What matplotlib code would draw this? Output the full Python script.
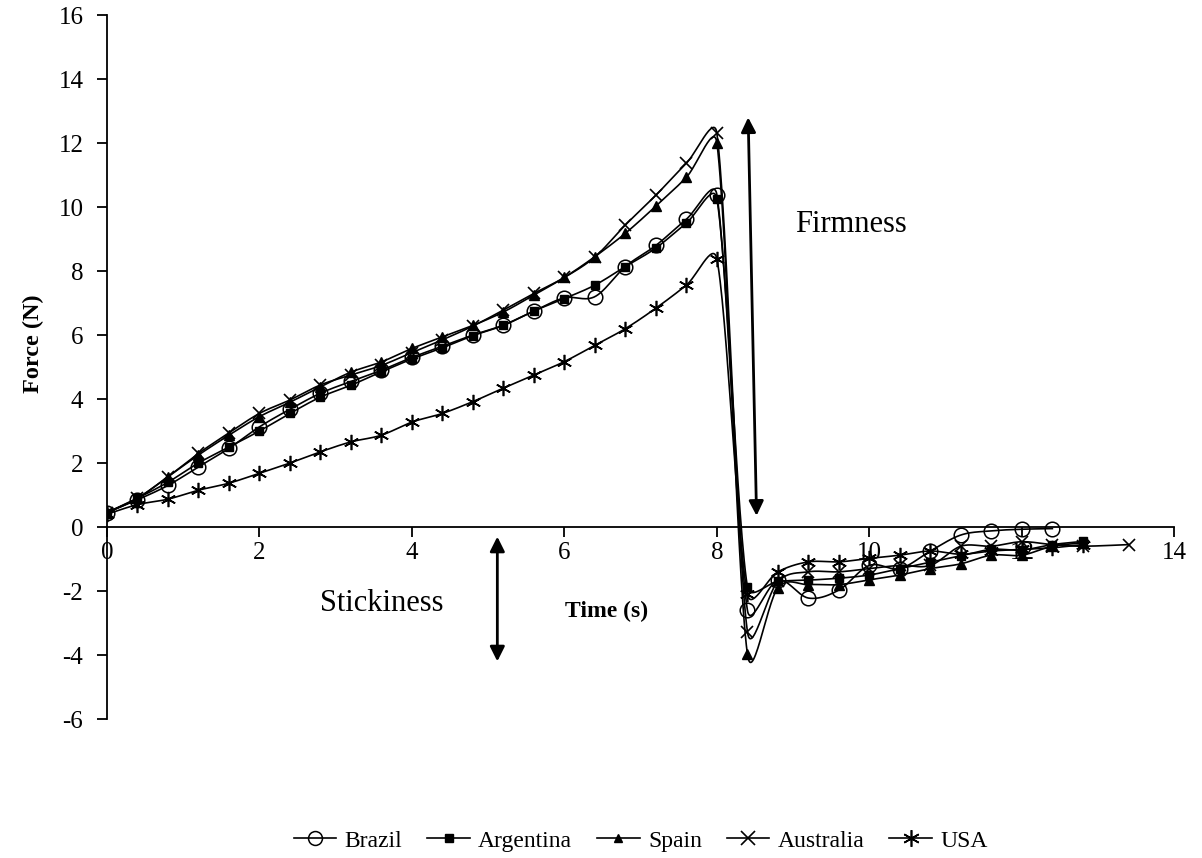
import numpy as np
import matplotlib
matplotlib.use("Agg")
import matplotlib.pyplot as plt
from matplotlib.lines import Line2D

plt.rcParams['font.family'] = ['Liberation Serif', 'DejaVu Serif']

# ---------------- data ----------------
t_up = [0.0, 0.4, 0.8, 1.2, 1.6, 2.0, 2.4, 2.8, 3.2, 3.6, 4.0, 4.4, 4.8, 5.2,
        5.6, 6.0, 6.4, 6.8, 7.2, 7.6, 8.0]

brazil_t = t_up + [8.4, 8.8, 9.2, 9.6, 10.0, 10.4, 10.8, 11.2, 11.6, 12.0, 12.4]
brazil_f = [0.45, 0.85, 1.30, 1.88, 2.46, 3.13, 3.68, 4.18, 4.55, 4.90, 5.30,
            5.65, 6.00, 6.31, 6.75, 7.16, 7.20, 8.14, 8.80, 9.62, 10.38,
            -2.60, -1.66, -2.22, -1.97, -1.20, -1.30, -0.75, -0.25, -0.12,
            -0.07, -0.05]

argentina_t = t_up + [8.4, 8.8, 9.2, 9.6, 10.0, 10.4, 10.8, 11.2, 11.6, 12.0,
                      12.4, 12.8]
argentina_f = [0.45, 0.90, 1.40, 2.00, 2.50, 3.00, 3.55, 4.06, 4.43, 4.85, 5.25,
               5.60, 5.98, 6.30, 6.75, 7.14, 7.56, 8.14, 8.72, 9.50, 10.25,
               -1.87, -1.70, -1.66, -1.60, -1.50, -1.30, -1.10, -0.90, -0.70,
               -0.72, -0.55, -0.45]

spain_t = t_up + [8.4, 8.8, 9.2, 9.6, 10.0, 10.4, 10.8, 11.2, 11.6, 12.0,
                  12.4, 12.8]
spain_f = [0.45, 0.90, 1.57, 2.25, 2.87, 3.45, 3.90, 4.38, 4.84, 5.16, 5.58,
           5.94, 6.30, 6.72, 7.25, 7.80, 8.45, 9.18, 10.03, 10.93, 12.00,
           -3.97, -1.90, -1.80, -1.80, -1.65, -1.50, -1.30, -1.15, -0.88,
           -0.88, -0.60, -0.50]

australia_t = t_up + [8.4, 8.8, 9.2, 9.6, 10.0, 10.4, 10.8, 11.2, 11.6, 12.0,
                      12.4, 12.8, 13.4]
australia_f = [0.45, 0.90, 1.57, 2.30, 2.94, 3.55, 3.97, 4.44, 4.75, 5.05, 5.45,
               5.85, 6.28, 6.78, 7.30, 7.80, 8.44, 9.44, 10.37, 11.37, 12.30,
               -3.27, -1.70, -1.40, -1.40, -1.30, -1.20, -1.20, -0.60, -0.60,
               -0.46, -0.55, -0.60, -0.55]

usa_t = t_up + [8.4, 8.8, 9.2, 9.6, 10.0, 10.4, 10.8, 11.2, 11.6, 12.0, 12.4,
                12.8]
usa_f = [0.40, 0.70, 0.87, 1.15, 1.37, 1.68, 2.00, 2.35, 2.66, 2.87, 3.28,
         3.55, 3.92, 4.34, 4.75, 5.17, 5.68, 6.20, 6.84, 7.56, 8.37,
         -2.10, -1.40, -1.09, -1.09, -0.98, -0.88, -0.75, -0.85, -0.75,
         -0.70, -0.65, -0.55]

names = ['Brazil', 'Argentina', 'Spain', 'Australia', 'USA']
x_ticks = [0, 2, 4, 6, 8, 10, 12, 14]
y_ticks = [-6, -4, -2, 0, 2, 4, 6, 8, 10, 12, 14, 16]

series = [(brazil_t, brazil_f), (argentina_t, argentina_f), (spain_t, spain_f),
          (australia_t, australia_f), (usa_t, usa_f)]
markers = [dict(marker='o', markersize=10.5, markerfacecolor='none', markeredgewidth=1.1),
           dict(marker='s', markersize=6, markerfacecolor='black'),
           dict(marker='^', markersize=6.5, markerfacecolor='black'),
           dict(marker='x', markersize=9, markeredgewidth=1.2),
           dict(marker=(6, 2, 0), markersize=11, markeredgewidth=1.2)]

SX, SY = 76.2, 32.0  # pixels per data unit (smoothing done in screen space)


def smooth(xs, ys, n=30):
    """Excel-style smoothed line (Bezier, 1/6 tangents capped at half segment)."""
    P = np.column_stack([np.asarray(xs) * SX, np.asarray(ys) * SY]).astype(float)
    m = len(P)
    out = [P[0]]
    for i in range(m - 1):
        p0 = P[i - 1] if i > 0 else P[i]
        p1 = P[i]
        p2 = P[i + 1]
        p3 = P[i + 2] if i + 2 < m else P[i + 1]
        d12 = np.hypot(*(p2 - p1))
        d02 = np.hypot(*(p2 - p0))
        d13 = np.hypot(*(p3 - p1))
        f0 = 1 / 6 if d02 / 6 < d12 / 2 or d02 == 0 else d12 / (2 * d02)
        f3 = 1 / 6 if d13 / 6 < d12 / 2 or d13 == 0 else d12 / (2 * d13)
        c1 = p1 + (p2 - p0) * f0
        c2 = p2 - (p3 - p1) * f3
        s = np.linspace(0, 1, n)[1:, None]
        seg = ((1 - s) ** 3) * p1 + 3 * ((1 - s) ** 2) * s * c1 \
            + 3 * (1 - s) * s ** 2 * c2 + s ** 3 * p2
        out.extend(seg)
    out = np.array(out)
    return out[:, 0] / SX, out[:, 1] / SY


fig = plt.figure(figsize=(12.02, 8.58), dpi=100)
ax = fig.add_axes([0.089, 0.162, 0.888, 0.8205])

for (tx, fy), mk in zip(series, markers):
    sx, sy = smooth(tx, fy)
    ax.plot(sx, sy, color='black', lw=1.2, zorder=2)
    ax.plot(tx, fy, linestyle='none', color='black', zorder=3, **mk)

ax.set_xlim(0, 14)
ax.set_ylim(-6, 16)
ax.set_xticks(x_ticks)
ax.set_yticks(y_ticks)
ax.set_xticklabels([str(v) for v in x_ticks])
ax.set_yticklabels([str(v) for v in y_ticks])

ax.spines['left'].set_position(('data', 0))
ax.spines['bottom'].set_position(('data', 0))
ax.spines['right'].set_visible(False)
ax.spines['top'].set_visible(False)
for sp in ['left', 'bottom']:
    ax.spines[sp].set_linewidth(1.3)
ax.tick_params(axis='both', direction='out', length=7, width=1.3,
               labelsize=18, pad=4)
ax.tick_params(axis='y', pad=10)

# axis titles
fig.text(0.028, 0.6, 'Force (N)', rotation=90, fontsize=17.5, fontweight='bold',
         ha='center', va='center')
ax.text(6.55, -2.65, 'Time (s)', fontsize=17, fontweight='bold',
        ha='center', va='center')

# annotations
ax.annotate('', xy=(8.41, 12.8), xytext=(8.52, 0.35),
            arrowprops=dict(arrowstyle='<|-|>', color='black', lw=2,
                            mutation_scale=22, shrinkA=0, shrinkB=0))
ax.text(9.03, 9.45, 'Firmness', fontsize=22, ha='left', va='center')
ax.annotate('', xy=(5.12, -0.3), xytext=(5.12, -4.2),
            arrowprops=dict(arrowstyle='<|-|>', color='black', lw=2,
                            mutation_scale=22, shrinkA=0, shrinkB=0))
ax.text(3.6, -2.4, 'Stickiness', fontsize=22, ha='center', va='center')

# legend
leg_marks = [dict(marker='o', markersize=10, markerfacecolor='none', markeredgewidth=1.1),
             dict(marker='s', markersize=6, markerfacecolor='black'),
             dict(marker='^', markersize=6, markerfacecolor='black'),
             dict(marker='x', markersize=10, markeredgewidth=1.2),
             dict(marker=(6, 2, 0), markersize=12, markeredgewidth=1.2)]
handles = [Line2D([0], [0], color='black', lw=1.2, **mk) for mk in leg_marks]
fig.legend(handles, names, loc='center', bbox_to_anchor=(0.533, 0.02),
           ncol=5, frameon=False, fontsize=17, handlelength=1.8,
           handletextpad=0.35, columnspacing=1.06)

fig.savefig('out.png', dpi=100)
